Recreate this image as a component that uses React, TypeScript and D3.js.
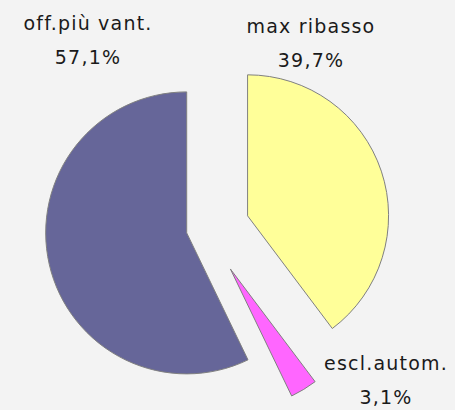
import { useMemo } from "react";
import * as d3 from "d3";

// slice order as in the workbook: clockwise from 12 o'clock
const categories = ["max ribasso", "escl.autom.", "off.più vant."];
const shares = [39.7, 3.1, 57.1];
const shareLabels = ["39,7%", "3,1%", "57,1%"];
const colors = ["#FFFF99", "#FF66FF", "#666699"];

const width = 455;
const height = 410;
const center = { x: 217.7, y: 225.8 };
const radius = 141;
// explosion distance (px) and extra turn (deg) off the bisector
const explodeDist = [31.5, 45, 31.8];
const explodeTurn = [0, 15, 0];
// label anchors: centre x, baseline of first line
const labelPos = [
  { x: 311, y: 33 },
  { x: 386, y: 370 },
  { x: 88, y: 30 },
];

export default function App() {
  const arcs = useMemo(
    () =>
      d3
        .pie<number>()
        .sort(null)
        .value((d) => d)(shares),
    [],
  );

  const arcGen = d3
    .arc<d3.PieArcDatum<number>>()
    .innerRadius(0)
    .outerRadius(radius);

  return (
    <div style={{ position: "fixed", left: 0, top: 0 }}>
      <svg width={width} height={height} style={{ display: "block" }}>
        <rect width={width} height={height} fill="#f3f3f3" />
        <g transform={`translate(${center.x},${center.y})`}>
          {arcs.map((a, i) => {
            const mid = (a.startAngle + a.endAngle) / 2 + (explodeTurn[i] * Math.PI) / 180;
            const [dx, dy] = d3.pointRadial(mid, explodeDist[i]);
            return (
              <path
                key={categories[i]}
                d={arcGen(a) ?? ""}
                transform={`translate(${dx},${dy})`}
                fill={colors[i]}
                stroke="#808080"
                strokeWidth={1}
                strokeLinejoin="miter"
              />
            );
          })}
        </g>
        {categories.map((c, i) => (
          <text
            key={c}
            x={labelPos[i].x}
            y={labelPos[i].y}
            textAnchor="middle"
            fontFamily="DejaVu Sans, sans-serif"
            fontSize={19}
            letterSpacing={1.2}
            fill="#1a1a1a"
          >
            <tspan x={labelPos[i].x}>{c}</tspan>
            <tspan x={labelPos[i].x} dy={34}>
              {shareLabels[i]}
            </tspan>
          </text>
        ))}
      </svg>
    </div>
  );
}
